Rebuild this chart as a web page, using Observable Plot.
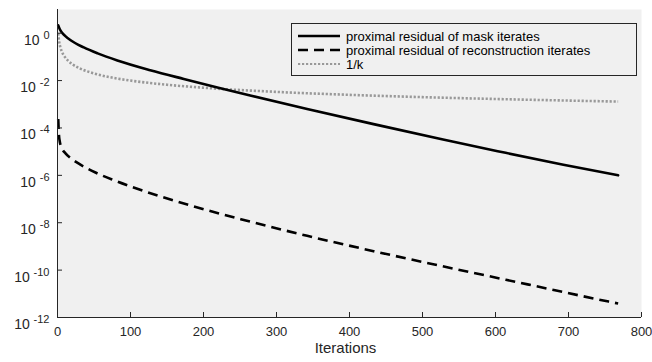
<!DOCTYPE html>
<html>
<head>
<meta charset="utf-8">
<script src="https://cdn.jsdelivr.net/npm/d3@7"></script>
<script src="https://cdn.jsdelivr.net/npm/@observablehq/plot@0.6"></script>
<style>
  html, body { margin: 0; padding: 0; background: #fff; }
  #wrap { position: relative; width: 652px; height: 362px; font-family: "Liberation Sans", Arial, sans-serif; }
  #legend { position: absolute; left: 291px; top: 23px; width: 344px; height: 51px;
    border: 1px solid #262626; background: #f0f0f0; font-size: 13px; color: #000; }
  .row { position: absolute; left: 0; height: 14px; display: flex; align-items: center; }
  .row svg { margin-left: 6px; margin-right: 6px; }
</style>
</head>
<body>
<div id="wrap"><div id="legend"></div></div>
<script>
// ---- data ----
const kMask = [1, 3, 6, 10, 18, 36, 55, 82, 127, 173, 219, 264, 342, 433, 525, 603, 693, 768];
const maskResidual = [2.14, 1.51, 1.07, 0.794, 0.501, 0.251, 0.141, 0.0708, 0.0275, 0.0117, 0.00513, 0.00234, 6.3e-4, 1.45e-4, 3.4e-5, 1.05e-5, 2.8e-6, 1.0e-6];

const kRec = [1, 2, 3, 6, 11, 20, 32, 52, 75, 100, 137, 182, 251, 342, 433, 525, 644, 755, 768];
const recResidual = [2.4e-4, 5.0e-5, 2.8e-5, 1.4e-5, 8.5e-6, 4.8e-6, 2.75e-6, 1.32e-6, 6.6e-7, 3.4e-7, 1.41e-7, 5.4e-8, 1.41e-8, 2.8e-9, 6.3e-10, 1.51e-10, 2.5e-11, 4.7e-12, 3.9e-12];

const kInv = [1, 2, 3, 4, 6, 8, 10, 15, 20, 30, 50, 75, 100, 150, 200, 300, 400, 500, 600, 700, 768];
const invK = [1, 0.5, 0.333, 0.25, 0.167, 0.125, 0.1, 0.0667, 0.05, 0.0333, 0.02, 0.0133, 0.01, 0.00667, 0.005, 0.00333, 0.0025, 0.002, 0.00167, 0.00143, 0.0013];

const xTicks = [0, 100, 200, 300, 400, 500, 600, 700, 800];
const yTicks = [1e0, 1e-2, 1e-4, 1e-6, 1e-8, 1e-10, 1e-12];
const seriesNames = ["proximal residual of mask iterates", "proximal residual of reconstruction iterates", "1/k"];
const xLabel = "Iterations";

const mask = kMask.map((k, i) => ({k, v: maskResidual[i]}));
const rec = kRec.map((k, i) => ({k, v: recResidual[i]}));
const inv = kInv.map((k, i) => ({k, v: invK[i]}));

const axisColor = "#262626";
const styles = [
  {stroke: "#000", strokeWidth: 2.6, dash: null},
  {stroke: "#000", strokeWidth: 2.6, dash: "10,6"},
  {stroke: "#999", strokeWidth: 2.6, dash: "2.2,1.8"}
];

const chart = Plot.plot({
  width: 652,
  height: 362,
  marginLeft: 57,
  marginRight: 11,
  marginTop: 9,
  marginBottom: 45,
  style: {fontFamily: "Liberation Sans, Arial, sans-serif", background: "transparent", color: axisColor},
  x: {domain: [0, 800]},
  y: {type: "log", domain: [1e-12, 10]},
  marks: [
    Plot.frame({fill: "#f0f0f0", stroke: null}),
    Plot.line(inv, {x: "k", y: "v", stroke: styles[2].stroke, strokeWidth: styles[2].strokeWidth, strokeDasharray: styles[2].dash, curve: "monotone-x", strokeLinecap: "butt"}),
    Plot.line(rec, {x: "k", y: "v", stroke: styles[1].stroke, strokeWidth: styles[1].strokeWidth, strokeDasharray: styles[1].dash, curve: "monotone-x", strokeLinecap: "butt"}),
    Plot.line(mask, {x: "k", y: "v", stroke: styles[0].stroke, strokeWidth: styles[0].strokeWidth, curve: "monotone-x"}),
    Plot.ruleX([0], {stroke: axisColor, strokeWidth: 1}),
    Plot.ruleY([1e-12], {stroke: axisColor, strokeWidth: 1}),
    Plot.axisX(xTicks, {tickSize: -5, tickPadding: 14, fontSize: 13, stroke: axisColor, fill: axisColor, label: null}),
    Plot.axisY(yTicks, {tickSize: -5, tickPadding: 13, fontSize: 14, stroke: axisColor, fill: axisColor, label: null,
      tickFormat: d => String(Math.round(Math.log10(d)))}),
    Plot.text([xLabel], {frameAnchor: "bottom", dy: 35, dx: -4, fontSize: 15, fill: axisColor})
  ]
});

document.getElementById("wrap").prepend(chart);

// superscript exponents for the log tick labels
d3.select(chart).selectAll('[aria-label="y-axis tick label"] text').each(function() {
  const e = this.textContent.replace("\u2212", "-");
  const t = d3.select(this);
  t.text("").attr("dy", "0.5em").attr("font-size", 14);
  t.append("tspan").text("10 ");
  t.append("tspan").attr("dy", "-6").attr("font-size", 11).text(e);
});

// legend
const legend = d3.select("#legend");
seriesNames.forEach((name, i) => {
  const row = legend.append("div").attr("class", "row").style("top", (5 + i * 14) + "px");
  const s = row.append("svg").attr("width", 42).attr("height", 14);
  s.append("line").attr("x1", 0).attr("x2", 42).attr("y1", 7).attr("y2", 7)
    .attr("stroke", styles[i].stroke).attr("stroke-width", i === 2 ? 2 : 2.6)
    .attr("stroke-dasharray", styles[i].dash);
  row.append("span").text(name);
});
</script>
</body>
</html>
